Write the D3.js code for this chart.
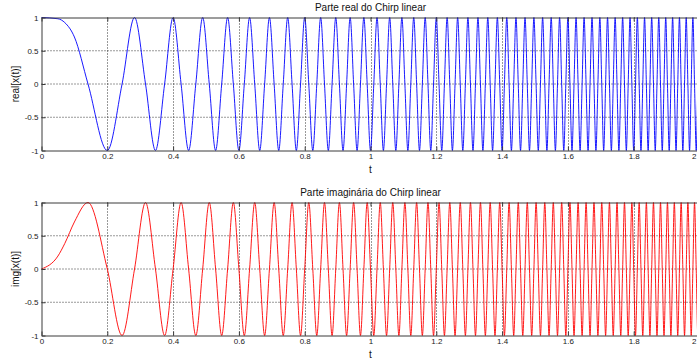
<!DOCTYPE html>
<html><head><meta charset="utf-8">
<script src="https://cdn.jsdelivr.net/npm/d3@7"></script>
<style>body{margin:0;background:#fff;overflow:hidden}text{font-family:"Liberation Sans",Arial,sans-serif}</style>
</head><body>
<svg id="c" width="697" height="361"></svg>
<script>
// sample times (s): start of first cycle, then every quarter-cycle of the chirp
const times = [0, 0.05, 0.0707, 0.1,
0.1414, 0.2, 0.2449, 0.2828, 0.3162, 0.3464, 0.3742, 0.4, 0.4243, 0.4472,
0.469, 0.4899, 0.5099, 0.5292, 0.5477, 0.5657, 0.5831, 0.6, 0.6164, 0.6325,
0.6481, 0.6633, 0.6782, 0.6928, 0.7071, 0.7211, 0.7348, 0.7483, 0.7616, 0.7746,
0.7874, 0.8, 0.8124, 0.8246, 0.8367, 0.8485, 0.8602, 0.8718, 0.8832, 0.8944,
0.9055, 0.9165, 0.9274, 0.9381, 0.9487, 0.9592, 0.9695, 0.9798, 0.9899, 1.0,
1.01, 1.0198, 1.0296, 1.0392, 1.0488, 1.0583, 1.0677, 1.077, 1.0863, 1.0954,
1.1045, 1.1136, 1.1225, 1.1314, 1.1402, 1.1489, 1.1576, 1.1662, 1.1747, 1.1832,
1.1916, 1.2, 1.2083, 1.2166, 1.2247, 1.2329, 1.241, 1.249, 1.257, 1.2649,
1.2728, 1.2806, 1.2884, 1.2961, 1.3038, 1.3115, 1.3191, 1.3266, 1.3342, 1.3416,
1.3491, 1.3565, 1.3638, 1.3711, 1.3784, 1.3856, 1.3928, 1.4, 1.4071, 1.4142,
1.4213, 1.4283, 1.4353, 1.4422, 1.4491, 1.456, 1.4629, 1.4697, 1.4765, 1.4832,
1.49, 1.4967, 1.5033, 1.51, 1.5166, 1.5232, 1.5297, 1.5362, 1.5427, 1.5492,
1.5556, 1.562, 1.5684, 1.5748, 1.5811, 1.5875, 1.5937, 1.6, 1.6062, 1.6125,
1.6186, 1.6248, 1.631, 1.6371, 1.6432, 1.6492, 1.6553, 1.6613, 1.6673, 1.6733,
1.6793, 1.6852, 1.6912, 1.6971, 1.7029, 1.7088, 1.7146, 1.7205, 1.7263, 1.7321,
1.7378, 1.7436, 1.7493, 1.755, 1.7607, 1.7664, 1.772, 1.7776, 1.7833, 1.7889,
1.7944, 1.8, 1.8055, 1.8111, 1.8166, 1.8221, 1.8276, 1.833, 1.8385, 1.8439,
1.8493, 1.8547, 1.8601, 1.8655, 1.8708, 1.8762, 1.8815, 1.8868, 1.8921, 1.8974,
1.9026, 1.9079, 1.9131, 1.9183, 1.9235, 1.9287, 1.9339, 1.9391, 1.9442, 1.9494,
1.9545, 1.9596, 1.9647, 1.9698, 1.9748, 1.9799, 1.9849, 1.99, 1.995, 2.0];

const realValues = [1, 0.981, 0.924, 0.707,
0,-1,0,1, 0,-1,0,1, 0,-1,0,1, 0,-1,0,1, 0,-1,0,1, 0,-1,0,1, 0,-1,0,1, 0,-1,0,1, 0,-1,0,1, 0,-1,0,1,
0,-1,0,1, 0,-1,0,1, 0,-1,0,1, 0,-1,0,1, 0,-1,0,1, 0,-1,0,1, 0,-1,0,1, 0,-1,0,1, 0,-1,0,1, 0,-1,0,1,
0,-1,0,1, 0,-1,0,1, 0,-1,0,1, 0,-1,0,1, 0,-1,0,1, 0,-1,0,1, 0,-1,0,1, 0,-1,0,1, 0,-1,0,1, 0,-1,0,1,
0,-1,0,1, 0,-1,0,1, 0,-1,0,1, 0,-1,0,1, 0,-1,0,1, 0,-1,0,1, 0,-1,0,1, 0,-1,0,1, 0,-1,0,1, 0,-1,0,1,
0,-1,0,1, 0,-1,0,1, 0,-1,0,1, 0,-1,0,1, 0,-1,0,1, 0,-1,0,1, 0,-1,0,1, 0,-1,0,1, 0,-1,0,1, 0,-1,0,1];

const imagValues = [0, 0.195, 0.383, 0.707,
1,0,-1,0, 1,0,-1,0, 1,0,-1,0, 1,0,-1,0, 1,0,-1,0, 1,0,-1,0, 1,0,-1,0, 1,0,-1,0, 1,0,-1,0, 1,0,-1,0,
1,0,-1,0, 1,0,-1,0, 1,0,-1,0, 1,0,-1,0, 1,0,-1,0, 1,0,-1,0, 1,0,-1,0, 1,0,-1,0, 1,0,-1,0, 1,0,-1,0,
1,0,-1,0, 1,0,-1,0, 1,0,-1,0, 1,0,-1,0, 1,0,-1,0, 1,0,-1,0, 1,0,-1,0, 1,0,-1,0, 1,0,-1,0, 1,0,-1,0,
1,0,-1,0, 1,0,-1,0, 1,0,-1,0, 1,0,-1,0, 1,0,-1,0, 1,0,-1,0, 1,0,-1,0, 1,0,-1,0, 1,0,-1,0, 1,0,-1,0,
1,0,-1,0, 1,0,-1,0, 1,0,-1,0, 1,0,-1,0, 1,0,-1,0, 1,0,-1,0, 1,0,-1,0, 1,0,-1,0, 1,0,-1,0, 1,0,-1,0];

const xTicks = [0, 0.2, 0.4, 0.6, 0.8, 1, 1.2, 1.4, 1.6, 1.8, 2];
const xTickLabels = ["0", "0.2", "0.4", "0.6", "0.8", "1", "1.2", "1.4", "1.6", "1.8", "2"];
const yTicks = [-1, -0.5, 0, 0.5, 1];
const yTickLabels = ["-1", "-0.5", "0", "0.5", "1"];
const titles = ["Parte real do Chirp linear", "Parte imaginária do Chirp linear"];
const yLabels = ["real[x(t)]", "img[x(t)]"];
const xLabel = "t";

const panels = [
  {title: titles[0], ylabel: yLabels[0], values: realValues, color: "#0000ff", top: 17.5, bottom: 150.5},
  {title: titles[1], ylabel: yLabels[1], values: imagValues, color: "#ff0000", top: 202.5, bottom: 335.5}
];

const svg = d3.select("#c");
const x = d3.scaleLinear().domain([0, 2]).range([41.5, 699.5]);
const axisColor = "#3a3a3a";

panels.forEach((p, pi) => {
  const y = d3.scaleLinear().domain([-1, 1]).range([p.bottom, p.top]);
  const g = svg.append("g");

  // grid
  g.append("g").selectAll("line.gx").data(xTicks.slice(1, -1)).join("line")
    .attr("x1", d => Math.round(x(d)) + 0.5).attr("x2", d => Math.round(x(d)) + 0.5)
    .attr("y1", p.top).attr("y2", p.bottom)
    .attr("stroke", "#333").attr("stroke-width", 1).attr("stroke-dasharray", "1,2");
  g.append("g").selectAll("line.gy").data(yTicks.slice(1, -1)).join("line")
    .attr("x1", x(0)).attr("x2", x(2))
    .attr("y1", d => y(d)).attr("y2", d => y(d))
    .attr("stroke", "#333").attr("stroke-width", 1).attr("stroke-dasharray", "1,2");

  // data
  const line = d3.line().x((d, i) => x(times[i])).y(d => y(d)).curve(d3.curveMonotoneX);
  g.append("path").datum(p.values)
    .attr("d", line).attr("fill", "none")
    .attr("stroke", p.color).attr("stroke-width", 0.9);

  // axes
  const xa = d3.axisBottom(x).tickValues(xTicks).tickFormat((d, i) => xTickLabels[i])
    .tickSizeInner(-4).tickSizeOuter(0).tickPadding(3);
  const gx = g.append("g").attr("transform", `translate(0,${p.bottom})`).call(xa);
  const xaTop = d3.axisTop(x).tickValues(xTicks).tickFormat("").tickSizeInner(-4).tickSizeOuter(0);
  const gxt = g.append("g").attr("transform", `translate(0,${p.top})`).call(xaTop);
  const ya = d3.axisLeft(y).tickValues(yTicks).tickFormat((d, i) => yTickLabels[i])
    .tickSizeInner(-4).tickSizeOuter(0).tickPadding(3);
  const gy = g.append("g").attr("transform", `translate(${x(0)},0)`).call(ya);
  [gx, gxt, gy].forEach(a => {
    a.select(".domain").attr("stroke", axisColor);
    a.selectAll(".tick line").attr("stroke", axisColor);
    a.selectAll("text").attr("fill", "#1a1a1a").style("font-size", "8px")
      .style("font-family", '"Liberation Sans", Arial, sans-serif');
  });
  // keep the last x label ("2") inside the picture edge
  gx.selectAll(".tick").filter(d => d === 2).select("text")
    .attr("text-anchor", "end").attr("x", 696 - x(2));

  // labels
  const cx = (x(0) + x(2)) / 2;
  svg.append("text").attr("x", cx).attr("y", p.top - 6.5).attr("text-anchor", "middle")
    .style("font-size", "10px").attr("fill", "#111").text(p.title);
  svg.append("text").attr("x", cx).attr("y", p.bottom + 22.5).attr("text-anchor", "middle")
    .style("font-size", "10px").attr("fill", "#111").text(xLabel);
  svg.append("text").attr("transform", `translate(19,${(p.top + p.bottom) / 2}) rotate(-90)`)
    .attr("text-anchor", "middle").style("font-size", "10px").attr("fill", "#111").text(p.ylabel);
});
</script>
</body></html>
